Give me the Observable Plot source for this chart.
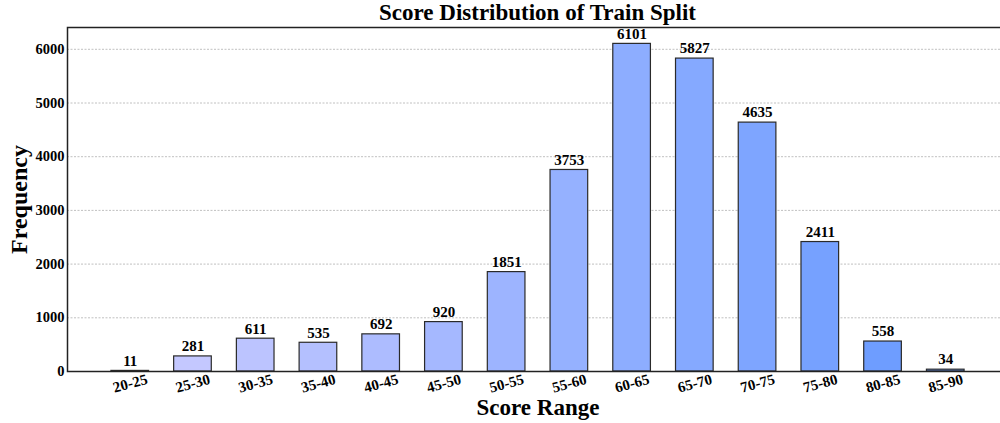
<!DOCTYPE html>
<html>
<head>
<meta charset="utf-8">
<script src="https://cdn.jsdelivr.net/npm/d3@7"></script>
<script src="https://cdn.jsdelivr.net/npm/@observablehq/plot@0.6"></script>
<style>
  html, body { margin: 0; padding: 0; background: #fff; }
  #wrap { width: 1000px; height: 423px; overflow: hidden; position: relative; }
  #inner { width: 1008px; }
  #title { height: 26px; line-height: 26px; text-align: center; padding-left: 67px; box-sizing: border-box;
           font-family: "Liberation Serif", "Times New Roman", serif; font-weight: bold; font-size: 23px; color: #000; }
</style>
</head>
<body>
<div id="wrap"><div id="inner">
  <div id="title">Score Distribution of Train Split</div>
  <div id="chart"></div>
</div></div>
<script>
const ranges = ["20-25","25-30","30-35","35-40","40-45","45-50","50-55","55-60","60-65","65-70","70-75","75-80","80-85","85-90"];
const counts = [11, 281, 611, 535, 692, 920, 1851, 3753, 6101, 5827, 4635, 2411, 558, 34];
const yTicks = [0, 1000, 2000, 3000, 4000, 5000, 6000];

const data = ranges.map((r, i) => ({i, range: r, count: counts[i]}));
const color = d3.interpolateRgb("#ccccff", "#6699ff");
const n = ranges.length;
const font = '"Liberation Serif", "Times New Roman", serif';

const chart = Plot.plot({
  width: 1008,
  height: 397,
  marginTop: 1,
  marginBottom: 52,
  marginLeft: 67,
  marginRight: 0,
  style: {fontFamily: font, fontWeight: "bold", color: "#000", background: "#fff"},
  x: {type: "linear", domain: [-1, n], axis: null},
  y: {domain: [0, d3.max(counts) * 1.05], axis: null},
  marks: [
    Plot.gridY(yTicks, {stroke: "#b0b0b0", strokeOpacity: 1, strokeWidth: 0.8, strokeDasharray: "2,1.5"}),
    Plot.rectY(data, {
      x1: d => d.i - 0.3, x2: d => d.i + 0.3, y1: 0, y2: "count",
      fill: d => color(d.i / (n - 1)), stroke: "#2a2a2a", strokeWidth: 1.2
    }),
    Plot.text(data, {x: "i", y: "count", text: d => String(d.count), dy: -10, fontSize: 15, fontWeight: "bold", fill: "#000"}),
    Plot.text(data, {x: "i", y: 0, text: "range", dy: 12, rotate: -15, fontSize: 15, fontWeight: "bold", fill: "#000"}),
    Plot.axisY({ticks: yTicks, tickSize: 0, tickPadding: 3, fontSize: 14.5, fontWeight: "bold", label: null, tickFormat: d => String(d)}),
    Plot.text(["Frequency"], {frameAnchor: "left", textAnchor: "middle", lineAnchor: "middle", rotate: -90, dx: -48, fontSize: 24, fontWeight: "bold", fill: "#000"}),
    Plot.text(["Score Range"], {frameAnchor: "bottom", textAnchor: "middle", lineAnchor: "middle", dy: 36, fontSize: 23, fontWeight: "bold", fill: "#000"}),
    Plot.frame({stroke: "#222", strokeWidth: 1.5})
  ]
});
document.getElementById("chart").appendChild(chart);
</script>
</body>
</html>
